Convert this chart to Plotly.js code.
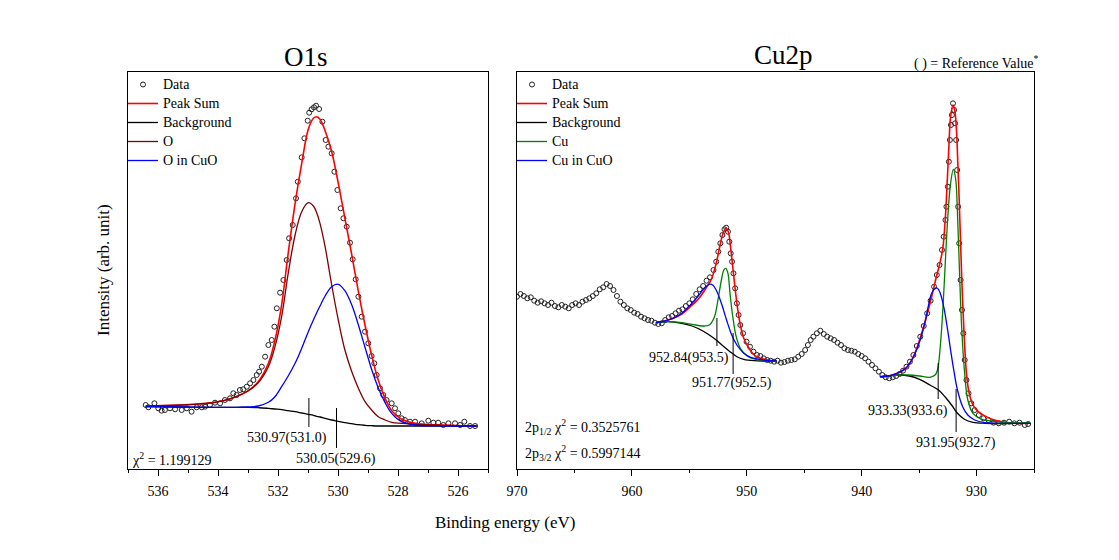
<!DOCTYPE html>
<html><head><meta charset="utf-8">
<script src="https://cdn.plot.ly/plotly-3.0.1.min.js"></script>
<style>html,body{margin:0;padding:0;background:#fff}#chart{width:1119px;height:560px}</style>
</head><body><div id="chart"></div>
<script>
// ---------- O1s panel ----------
const oDataBE = [536.41,536.32,536.12,535.99,535.88,535.77,535.60,535.43,535.21,535.04,534.88,534.71,534.54,534.43,534.27,534.10,533.93,533.77,533.60,533.49,533.38,533.27,533.16,533.04,532.93,532.82,532.71,532.63,532.54,532.43,532.32,532.21,532.12,532.04,531.93,531.82,531.71,531.63,531.51,531.40,531.34,531.21,531.12,531.01,530.96,530.88,530.80,530.73,530.63,530.52,530.41,530.32,530.21,530.12,530.02,529.91,529.82,529.71,529.60,529.51,529.41,529.32,529.21,529.10,528.99,528.88,528.79,528.71,528.60,528.49,528.38,528.21,528.10,527.99,527.88,527.77,527.60,527.43,527.21,526.99,526.82,526.66,526.49,526.32,526.10,525.93,525.79,525.60,525.43];
const oDataInt = [64,61.7,65.7,60.7,58.3,59,60.7,59.7,59,60.7,57.3,61.7,61.7,62.3,64,66.3,65.7,69,70.7,75.7,74,79,79.7,82.3,85.7,89,94,97.3,102.3,112.3,124,129,142.3,160.7,176.3,189,209,230.7,244,270.7,287.3,311.7,330.7,348.3,356.3,359.7,361.7,363.3,360,347.3,329,322.3,315.7,297.3,279,260.7,250.7,242.3,226.3,209.7,189.7,172.3,152.3,137.3,125.7,113,105.7,94,80.7,74,69,65.7,60.7,55.7,50.7,49,47.3,47.3,45.7,48.3,46.3,46.3,44,45.7,45.7,44,47.3,43,43];
const oFitBE = [536.41,535.21,534.10,533.54,532.99,532.66,532.32,532.10,531.88,531.66,531.43,531.21,530.99,530.82,530.71,530.60,530.43,530.21,529.99,529.77,529.54,529.32,529.10,528.88,528.66,528.43,528.21,527.88,527.43,526.32,525.38];
const oPeakSum = [63,64,66.7,70.7,78.3,87.3,105.7,129,164,215.7,265.7,305.7,339.7,350.7,352.3,349.7,338.3,317.3,285.7,250.7,214,177.3,144,114,89,70.7,58.3,49.7,45.7,43.7,43];
const oBackground = [62.3,62,61.7,61.7,61.7,61.3,60.7,60,59.3,58.3,57.3,56,54.7,53.7,52.7,52,50.7,49,47.7,46.3,45.3,44.3,43.7,43.3,43,43,43,43,43,43,43];
const oO = [63,64,66.7,70.7,78.3,86.3,102.3,122.3,152.3,195.7,234,257.3,266.3,263,256.3,245.7,222.3,184,149,119,97.3,80.7,67.3,59,52.3,49,46.7,45.7,44.7,43.7,43];
const oOinCuO = [62.3,62,61.7,61.7,62,63,66.7,72.3,82.3,93,105.7,120.7,137.3,149,156.3,163,173,182.3,184.7,178.3,164,144,121.7,99.7,81.3,66.3,55.7,47.3,44,43,43];
const oMarkBE = [530.97, 530.05];
const oMarkY0 = [42, 21];
const oMarkY1 = [71, 61];
const oLabels = ["530.97(531.0)", "530.05(529.6)"];
const oLabelBE = [531.71, 530.07];
const oLabelY = [31, 10];

// ---------- Cu2p panel ----------
const cuDataBE = [970.00,969.70,969.40,969.10,968.80,968.50,968.20,967.90,967.60,967.30,967.00,966.70,966.40,966.10,965.80,965.50,965.20,964.90,964.60,964.30,964.00,963.70,963.40,963.10,962.80,962.50,962.20,961.90,961.60,961.30,961.00,960.70,960.40,960.10,959.80,959.50,959.20,958.90,958.60,958.30,958.00,957.70,957.40,957.10,956.80,956.50,956.20,955.90,955.60,955.30,955.00,954.70,954.40,954.10,953.80,953.50,953.20,952.90,952.66,952.48,952.30,952.12,951.94,951.79,951.64,951.52,951.40,951.28,951.16,951.01,950.86,950.71,950.56,950.32,950.02,949.72,949.42,949.12,948.82,948.52,948.22,947.92,947.62,947.32,947.02,946.72,946.42,946.12,945.82,945.52,945.22,944.92,944.68,944.44,944.20,943.90,943.60,943.30,943.00,942.70,942.40,942.10,941.80,941.50,941.20,940.90,940.60,940.30,940.00,939.70,939.40,939.10,938.80,938.50,938.20,937.90,937.60,937.30,937.00,936.70,936.40,936.10,935.80,935.50,935.20,934.90,934.60,934.30,934.00,933.70,933.46,933.22,933.01,932.86,932.71,932.62,932.50,932.41,932.32,932.23,932.14,932.05,931.96,931.87,931.78,931.69,931.60,931.51,931.39,931.27,931.15,931.03,930.88,930.70,930.46,930.16,929.80,929.41,928.96,928.51,928.06,927.61,927.16,926.71,926.26,925.81,925.51];
const cuDataInt = [172.3,175,173,170.7,171.7,168.3,166.3,167.7,165.7,164,166.3,163,161.7,164,162.3,160.7,164,165.7,164,167.3,169,170.7,173,175.7,179.7,181.7,185,183,179,173,167.3,164,160.7,159,156.3,155,152.3,150.7,149,148.3,146.3,145,145.7,149,151.7,153,155.7,158.3,159.7,163,165.7,169.7,175,179.7,183,188.3,191.7,199,207.3,217.3,225.7,234,239.7,241.3,237.3,227.3,215.7,207.3,195.7,180.7,165.7,154,144,135.7,127.3,122.3,117.3,114,113,110.7,109,108.3,107.3,108.3,106.3,107,108.3,109,109.7,112.3,115,119,124,129,132.3,135.7,138.3,135,132.3,130.7,129,126.3,124,120.7,119,118.3,117.3,115,113,110.7,107.3,104,100.7,97.3,94,91.7,90.7,91.7,93,95,98.3,102.3,107.3,114,123,132.3,143,155.7,168.3,182.3,194,204,219,232.3,249,262.3,282.3,307.3,329,344,354,365.7,359,345.7,329,299,262.3,225.7,189,159,135.7,109,89,75.7,65.7,59,54,50.7,49,46.3,45.7,46.3,47.3,45.7,46.3,44,45];

const cuPeakSumBE = [957.91,957.16,956.41,955.66,954.91,954.16,953.56,953.11,952.66,952.36,952.06,951.82,951.61,951.40,951.16,950.86,950.56,950.26,949.81,949.36,948.76,948.16,947.41,null,938.41,937.66,936.91,936.16,935.56,934.96,934.36,933.91,933.46,933.16,932.92,932.71,932.56,932.41,932.26,932.05,931.90,931.75,931.63,931.51,931.39,931.24,931.06,930.88,930.64,930.31,929.86,929.26,928.66,927.76,926.56,925.36];
const cuPeakSum = [146.3,148,150.7,155,162.3,170.7,180.7,189,205.7,222.3,235.7,240.7,237.3,220.7,195.7,165.7,144,130.7,120.7,114,110.7,109,108.3,null,92.3,93,95.7,100.7,110.7,129,152.3,172.3,194,207.3,222.3,252.3,285.7,322.3,352.3,364,359,339,305.7,269,225.7,175.7,129,95.7,75.7,64,57.3,53,49.7,47.3,45.7,45.7];

const cuBackgroundBE = [957.91,956.86,955.66,954.76,953.86,953.26,952.66,952.06,951.46,950.86,950.26,949.36,948.46,947.41,null,938.41,937.66,936.76,935.86,934.96,934.06,933.31,932.71,932.11,931.66,931.06,930.31,929.26,925.36];
const cuBackground = [146.3,147.3,145.7,143,138.3,134,129,123,117.3,112.3,109.7,108.3,108,108,null,92.3,93,94,93,89.7,84,79,71.7,63,55.7,49.7,46.7,45.7,45.7];

const cuCuBE = [957.91,956.86,955.66,954.76,953.86,953.26,952.81,952.51,952.21,952.00,951.82,951.64,951.46,951.22,950.92,950.56,949.96,949.36,948.46,947.41,null,938.41,937.66,936.76,935.86,934.96,934.06,933.61,933.40,933.16,932.92,932.71,932.50,932.26,932.02,931.81,931.66,931.48,931.30,931.06,930.76,930.31,929.56,928.66,927.46,925.36];
const cuCu = [146.3,147.3,146.3,144.7,143,144,152.3,169,189,199,200.7,195.7,175.7,152.3,132.3,120.7,113,110,108.3,108,null,92.3,93,94,94,93,91.7,94,99,122.3,162.3,209,252.3,285.7,299.7,289,255.7,195.7,142.3,99,69,55.7,49.7,48,46.3,46.3];

const cuCuOBE = [957.91,957.16,956.41,955.66,954.91,954.16,953.71,953.26,952.96,952.66,952.21,951.76,951.31,950.86,950.26,949.66,948.91,948.16,947.41,null,938.41,937.66,936.91,936.16,935.56,934.96,934.51,934.21,933.91,933.61,933.40,933.16,932.86,932.56,932.26,931.96,931.66,931.21,930.76,930.16,929.26,928.06,925.36];
const cuCuO = [146.3,148,150.7,155.7,164,174,180.7,184.7,184,179,165.7,149,134,124,115.7,111.7,109.7,108.3,108.3,null,92.3,93,95.7,100.7,110.7,127.3,145.7,162.3,175.7,180.7,180.7,175.7,162.3,142.3,119,97.3,79,62.3,54,49,46.3,45.7,45.7];

const cuMarkBE = [952.60, 951.19, 933.34, 931.78];
const cuMarkY0 = [123, 95, 70, 37];
const cuMarkY1 = [151, 136, 106, 80];
const cuLabels = ["952.84(953.5)", "951.77(952.5)", "933.33(933.6)", "931.95(932.7)"];
const cuLabelBE = [955.06, 951.31, 935.95, 931.78];
const cuLabelY = [110.7, 85.7, 58, 25.7];

const FONT = 'Liberation Serif, Times New Roman, serif';
const W = 1119, H = 560;

function nm(s) { return '<span style="font-size:14px">' + s + '</span>'; }
function lineTrace(x, y, name, color, xa, ya, lg, w) {
  return {x: x, y: y, name: nm(name), mode: 'lines', xaxis: xa, yaxis: ya, legend: lg,
    connectgaps: false, line: {color: color, width: w || 1.3, shape: 'spline', smoothing: 1}};
}
function dataTrace(x, y, xa, ya, lg) {
  return {x: x, y: y, name: nm('Data'), mode: 'markers', xaxis: xa, yaxis: ya, legend: lg,
    marker: {symbol: 'circle-open', size: 5, color: '#222', line: {width: 1}}};
}

const traces = [
  dataTrace(oDataBE, oDataInt, 'x', 'y', 'legend'),
  lineTrace(oFitBE, oPeakSum, 'Peak Sum', '#ff0000', 'x', 'y', 'legend', 1.6),
  lineTrace(oFitBE, oBackground, 'Background', '#000000', 'x', 'y', 'legend'),
  lineTrace(oFitBE, oO, 'O', '#800000', 'x', 'y', 'legend'),
  lineTrace(oFitBE, oOinCuO, 'O in CuO', '#0000ff', 'x', 'y', 'legend'),
  dataTrace(cuDataBE, cuDataInt, 'x2', 'y2', 'legend2'),
  lineTrace(cuPeakSumBE, cuPeakSum, 'Peak Sum', '#ff0000', 'x2', 'y2', 'legend2', 1.6),
  lineTrace(cuBackgroundBE, cuBackground, 'Background', '#000000', 'x2', 'y2', 'legend2'),
  lineTrace(cuCuBE, cuCu, 'Cu', '#008000', 'x2', 'y2', 'legend2'),
  lineTrace(cuCuOBE, cuCuO, 'Cu in CuO', '#0000ff', 'x2', 'y2', 'legend2')
];

const shapes = [];
const annotations = [];
oMarkBE.forEach((b, i) => shapes.push({type: 'line', xref: 'x', yref: 'y', x0: b, x1: b, y0: oMarkY0[i], y1: oMarkY1[i], line: {color: '#000', width: 1}}));
cuMarkBE.forEach((b, i) => shapes.push({type: 'line', xref: 'x2', yref: 'y2', x0: b, x1: b, y0: cuMarkY0[i], y1: cuMarkY1[i], line: {color: '#000', width: 1}}));
const tf = {family: FONT, size: 14, color: '#000'};
oLabels.forEach((t, i) => annotations.push({xref: 'x', yref: 'y', x: oLabelBE[i], y: oLabelY[i], text: t, showarrow: false, font: tf, xanchor: 'center', yanchor: 'middle'}));
cuLabels.forEach((t, i) => annotations.push({xref: 'x2', yref: 'y2', x: cuLabelBE[i], y: cuLabelY[i], text: t, showarrow: false, font: tf, xanchor: 'center', yanchor: 'middle'}));
annotations.push({xref: 'x', yref: 'y', x: 536.93, y: 10, text: 'χ<sup>2</sup> = 1.199129', showarrow: false, font: tf, xanchor: 'left', yanchor: 'middle'});
annotations.push({xref: 'x2', yref: 'y2', x: 969.5, y: 41.7, text: '2p<sub>1/2</sub> χ<sup>2</sup> = 0.3525761', showarrow: false, font: tf, xanchor: 'left', yanchor: 'middle'});
annotations.push({xref: 'x2', yref: 'y2', x: 969.5, y: 15.7, text: '2p<sub>3/2</sub> χ<sup>2</sup> = 0.5997144', showarrow: false, font: tf, xanchor: 'left', yanchor: 'middle'});
annotations.push({xref: 'paper', yref: 'paper', x: 306 / W, y: 1 - 57 / H, text: 'O1s', showarrow: false, font: {family: FONT, size: 27, color: '#000'}, xanchor: 'center', yanchor: 'middle'});
annotations.push({xref: 'paper', yref: 'paper', x: 784 / W, y: 1 - 55 / H, text: 'Cu2p', showarrow: false, font: {family: FONT, size: 27, color: '#000'}, xanchor: 'center', yanchor: 'middle'});
annotations.push({xref: 'paper', yref: 'paper', x: 1041 / W, y: 1 - 62 / H, text: '( ) = Reference Value<sup>*</sup>', showarrow: false, font: tf, xanchor: 'right', yanchor: 'middle'});
annotations.push({xref: 'paper', yref: 'paper', x: 103 / W, y: 1 - 270 / H, text: 'Intensity (arb. unit)', textangle: -90, showarrow: false, font: {family: FONT, size: 17, color: '#000'}, xanchor: 'center', yanchor: 'middle'});
annotations.push({xref: 'paper', yref: 'paper', x: 505 / W, y: 1 - 522 / H, text: 'Binding energy (eV)', showarrow: false, font: {family: FONT, size: 17, color: '#000'}, xanchor: 'center', yanchor: 'middle'});

const xBase = {showline: true, mirror: true, linecolor: '#000', linewidth: 1, ticks: 'outside', ticklen: 6, tickwidth: 1, tickcolor: '#000',
  ticklabelstandoff: 3, showgrid: false, zeroline: false, tickfont: {family: FONT, size: 14, color: '#000'}, fixedrange: true};
const yBase = {showline: true, mirror: true, linecolor: '#000', linewidth: 1, ticks: '', showticklabels: false, showgrid: false, zeroline: false,
  range: [0, 397], domain: [91 / H, 1 - 72 / H], fixedrange: true};

const legBase = {xanchor: 'left', yanchor: 'top', bgcolor: 'rgba(0,0,0,0)', borderwidth: 0,
  font: {family: FONT, size: 12, color: '#000'}, tracegroupgap: 0};

const layout = {
  width: W, height: H, margin: {l: 0, r: 0, t: 0, b: 0}, paper_bgcolor: '#fff', plot_bgcolor: '#fff',
  showlegend: true,
  xaxis: Object.assign({}, xBase, {domain: [128 / W, 488 / W], range: [537, 525], anchor: 'y', tick0: 526, dtick: 2,
    minor: {ticks: 'outside', ticklen: 3, dtick: 1, tick0: 525, tickcolor: '#000', showgrid: false}}),
  yaxis: Object.assign({}, yBase, {anchor: 'x'}),
  xaxis2: Object.assign({}, xBase, {domain: [517 / W, 1034 / W], range: [970, 925], anchor: 'y2', tick0: 930, dtick: 10,
    minor: {ticks: 'outside', ticklen: 3, dtick: 5, tick0: 925, tickcolor: '#000', showgrid: false}}),
  yaxis2: Object.assign({}, yBase, {anchor: 'x2'}),
  legend: Object.assign({}, legBase, {x: 123 / W, y: 1 - 70 / H}),
  legend2: Object.assign({}, legBase, {x: 512 / W, y: 1 - 70 / H}),
  shapes: shapes, annotations: annotations
};

Plotly.newPlot('chart', traces, layout, {displayModeBar: false, staticPlot: true});
</script></body></html>
